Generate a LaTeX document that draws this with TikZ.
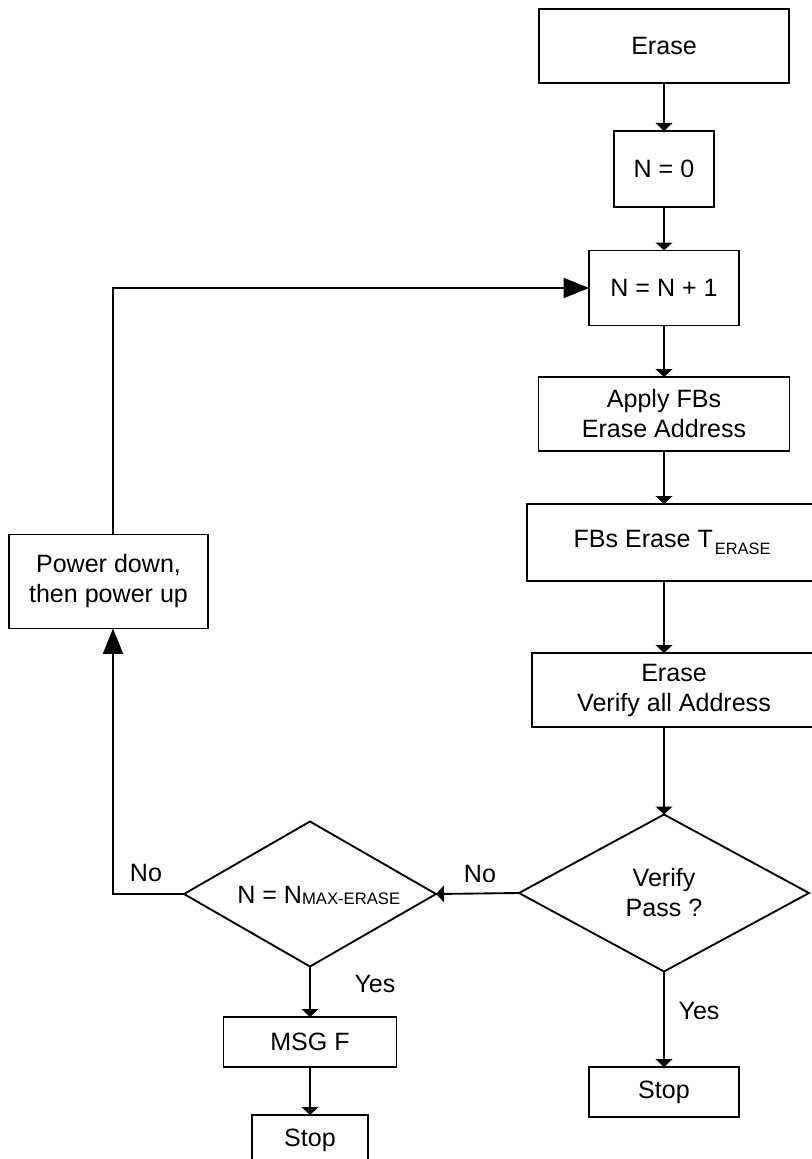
\documentclass[tikz,border=0pt]{standalone}
\usepackage{fontspec}
\setmainfont{Liberation Sans}
\usetikzlibrary{shapes.geometric,arrows.meta}
\begin{document}
\begin{tikzpicture}[x=0.75pt,y=-0.75pt,
  txt/.style={font=\fontsize{18.8}{22.5}\selectfont},
  box/.style 2 args={draw,line width=1.4pt,rectangle,inner sep=0pt,outer sep=0pt,
    align=center,txt,minimum width=#1*0.75pt,minimum height=#2*0.75pt},
  decision/.style 2 args={draw,line width=1.4pt,diamond,inner sep=0pt,outer sep=0pt,
    align=center,txt,minimum width=#1*0.75pt,minimum height=#2*0.75pt},
  flow/.style={line width=1.4pt,-{Triangle[length=6pt,width=12.5pt]}},
  bigflow/.style={line width=1.4pt,-{Triangle[length=19pt,width=15pt]}},
  lbl/.style={txt,inner sep=0pt}]
\newcommand{\subtxt}[1]{\raisebox{-5pt}{\fontsize{12.3}{12.3}\selectfont #1}}

\path[use as bounding box,clip] (0,0) rectangle (812,1159);

% main column
\node[box={250}{74}] (erase) at (664,46) {Erase};
\node[box={100}{76}] (nzero) at (664,169) {N = 0};
\node[box={150}{75}] (ninc) at (664,288) {N = N + 1};
\node[box={251}{74}] (apply) at (664,414) {Apply FBs\\Erase Address};
\node[box={290}{77}] (fbs) at (672,542.5) {FBs Erase T\kern1.5pt\subtxt{ERASE}};
\node[box={284}{74}] (vall) at (674,690) {Erase\\Verify all Address};
\node[decision={290}{157}] (vpass) at (664,893) {Verify\\Pass ?};
\node[box={150}{50}] (stopr) at (664,1092) {Stop};

% failure branch
\node[decision={252}{145}] (nmax) at (310,894) {};
\node[lbl,anchor=base west] (nmaxtxt) at (237,903) {N = N\raisebox{-1pt}{\fontsize{12.5}{12.5}\selectfont MAX-ERASE}};
\node[box={173}{50}] (msgf) at (310,1042) {MSG F};
\node[box={116}{50}] (stopl) at (310,1140) {Stop};
\node[box={199}{94}] (power) at (108.5,581.5) {Power down,\\then power up};

\coordinate (loopbot) at (113,894);

% connectors
\draw[flow] (erase) -- (nzero);
\draw[flow] (nzero) -- (ninc);
\draw[flow] (ninc) -- (apply);
\draw[flow] (apply.south) -- (apply.south |- fbs.north);
\draw[flow] (apply.south |- fbs.south) -- (apply.south |- vall.north);
\draw[flow] (apply.south |- vall.south) -- (vpass.north);
\draw[flow] (vpass.south) -- (stopr.north);
\draw[flow] (vpass.west) -- (nmax.east);
\draw[flow] (nmax.south) -- (msgf.north);
\draw[flow] (msgf) -- (stopl);
\draw[bigflow] (nmax.west) -- (loopbot) -- (loopbot |- power.south);
\draw[bigflow] (loopbot |- power.north) -- (loopbot |- ninc.west) -- (ninc.west);

% branch labels
\node[lbl] (yesr) at (699,1011) {Yes};
\node[lbl] (nor) at (480,874) {No};
\node[lbl] (yesl) at (375,984) {Yes};
\node[lbl] (nol) at (146,873) {No};
\end{tikzpicture}
\end{document}
